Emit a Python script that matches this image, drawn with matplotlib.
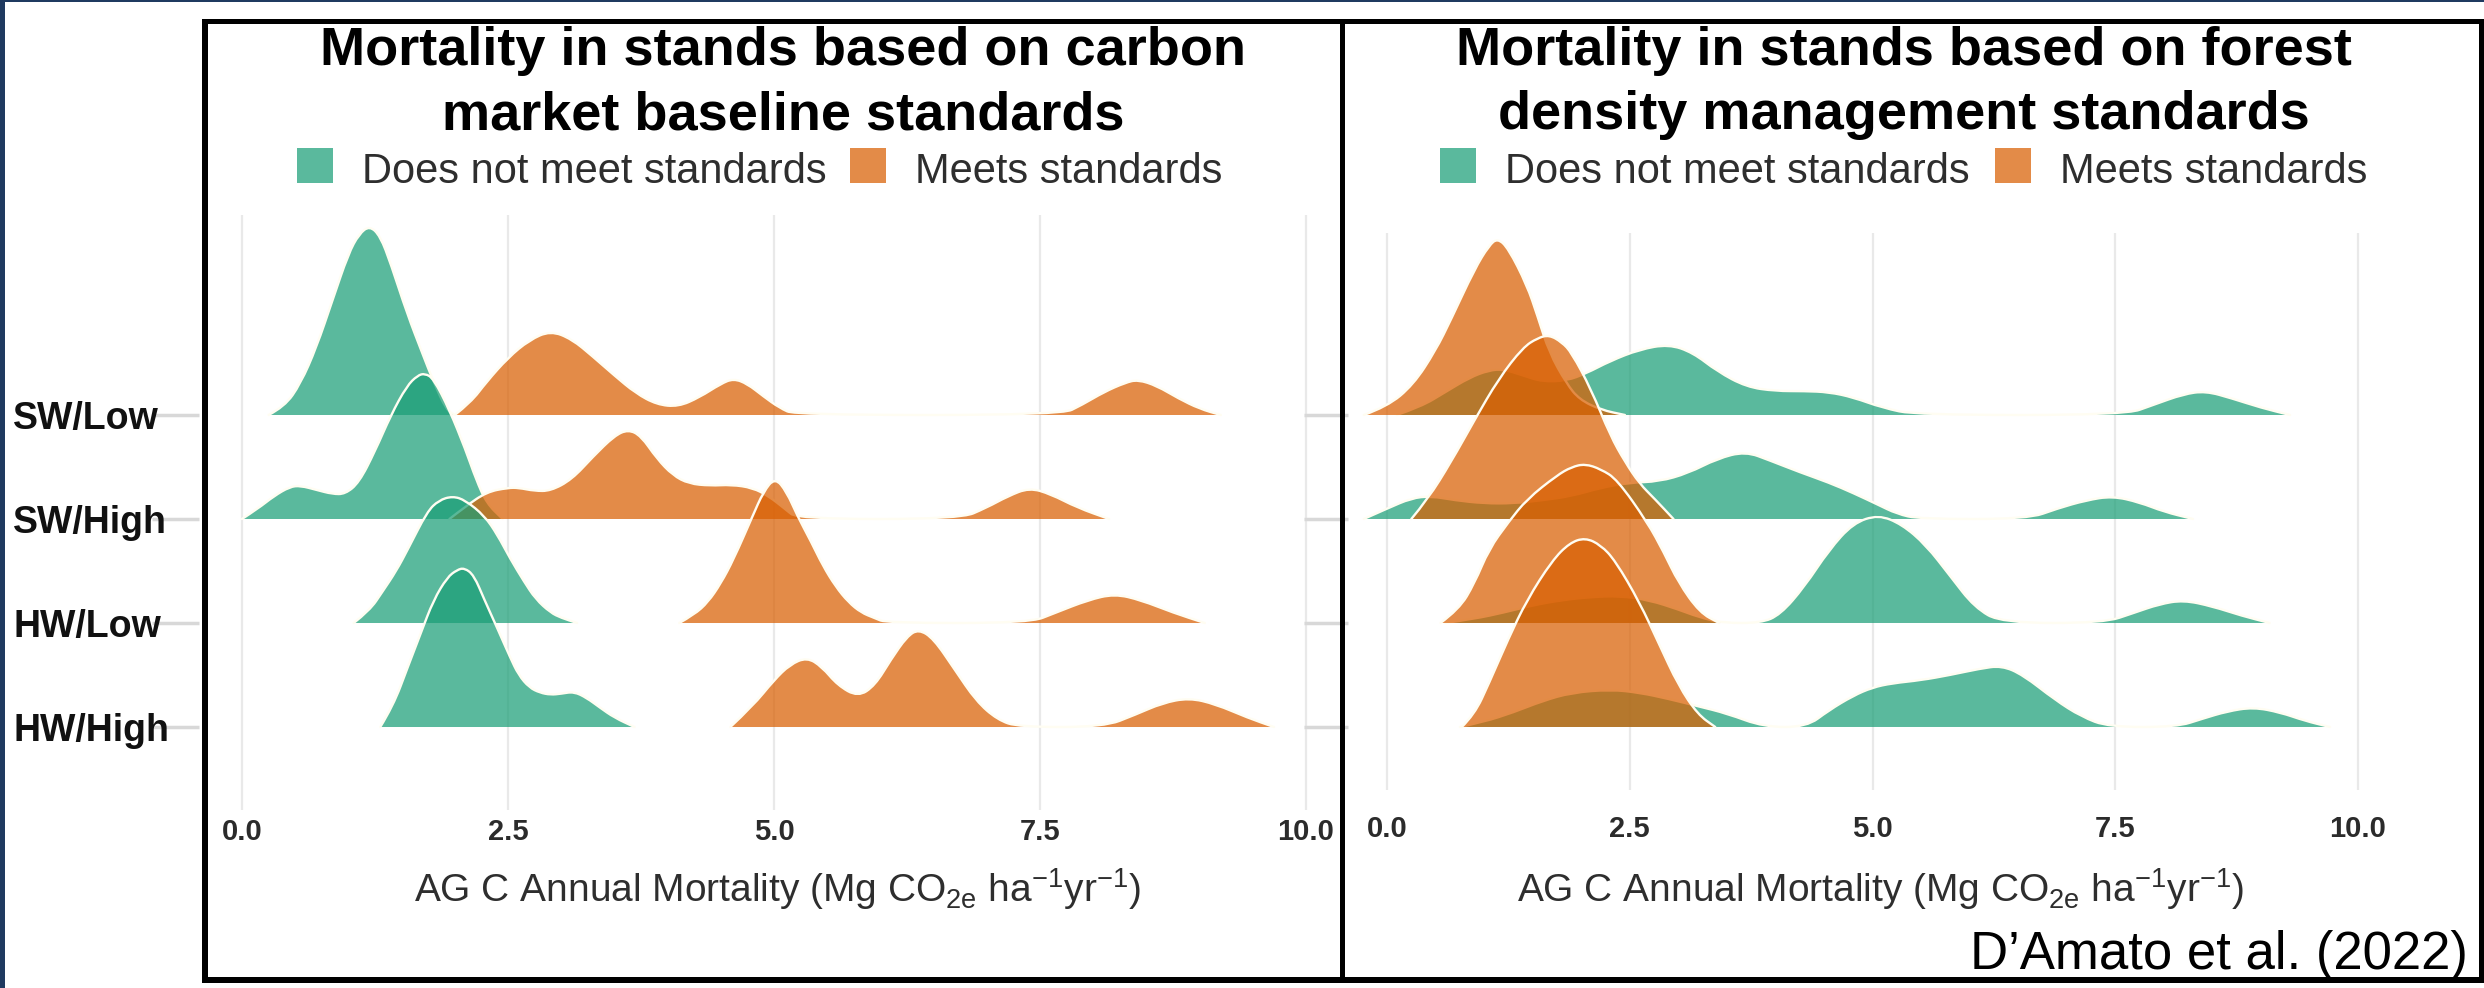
import matplotlib
matplotlib.use('Agg')
import matplotlib.pyplot as plt
from matplotlib import transforms
from matplotlib.patches import Rectangle, PathPatch
from matplotlib.path import Path

plt.rcParams['font.family'] = ['Liberation Sans', 'DejaVu Sans']
plt.rcParams['mathtext.fontset'] = 'custom'
plt.rcParams['mathtext.rm'] = 'Liberation Sans'
plt.rcParams['mathtext.it'] = 'Liberation Sans:italic'
plt.rcParams['mathtext.bf'] = 'Liberation Sans:bold'

rows = ['SW/Low', 'SW/High', 'HW/Low', 'HW/High']
row_pos = [4, 3, 2, 1]
ticks = [0.0, 2.5, 5.0, 7.5, 10.0]
tick_labels = ['0.0', '2.5', '5.0', '7.5', '10.0']
groups = ['Does not meet standards', 'Meets standards']
titles = [['Mortality in stands based on carbon', 'market baseline standards'],
          ['Mortality in stands based on forest', 'density management standards']]
xlabel = r'AG C Annual Mortality (Mg CO$_\mathrm{2e}$ ha$^\mathrm{-1}$yr$^\mathrm{-1}$)'
citation = 'D\u2019Amato et al. (2022)'

# ridge outlines: (x, height in row units)
# carbon market baseline panel
carbon_not_sw_low = [(0.25, 0), (0.40, 0.08), (0.55, 0.30), (0.70, 0.65), (0.85, 1.10), (1.00, 1.55),
                     (1.10, 1.74), (1.20, 1.82), (1.30, 1.72), (1.40, 1.45), (1.55, 0.98), (1.70, 0.58),
                     (1.80, 0.32), (1.92, 0.05), (2.00, 0)]
carbon_meet_sw_low = [(2.0, 0), (2.15, 0.12), (2.3, 0.32), (2.5, 0.55), (2.7, 0.72), (2.9, 0.81), (3.1, 0.73),
                      (3.3, 0.56), (3.5, 0.38), (3.7, 0.21), (3.9, 0.10), (4.1, 0.08), (4.3, 0.17), (4.5, 0.30),
                      (4.62, 0.35), (4.75, 0.30), (4.9, 0.18), (5.05, 0.07), (5.2, 0), (7.7, 0), (7.9, 0.1),
                      (8.1, 0.22), (8.3, 0.31), (8.42, 0.34), (8.6, 0.28), (8.8, 0.16), (9.0, 0.06), (9.2, 0)]
carbon_not_sw_high = [(0.0, 0), (0.15, 0.10), (0.3, 0.22), (0.45, 0.31), (0.55, 0.32), (0.7, 0.28),
                      (0.85, 0.24), (0.97, 0.24), (1.1, 0.35), (1.25, 0.65), (1.4, 1.0), (1.55, 1.28),
                      (1.65, 1.38), (1.72, 1.40), (1.8, 1.35), (1.95, 1.05), (2.1, 0.67), (2.2, 0.38),
                      (2.3, 0.15), (2.45, 0)]
carbon_meet_sw_high = [(1.95, 0), (2.1, 0.12), (2.3, 0.26), (2.5, 0.30), (2.6, 0.30), (2.75, 0.27),
                       (2.9, 0.27), (3.1, 0.38), (3.3, 0.60), (3.5, 0.80), (3.63, 0.86), (3.75, 0.80),
                       (3.9, 0.58), (4.05, 0.42), (4.2, 0.34), (4.4, 0.32), (4.6, 0.33), (4.8, 0.30),
                       (4.95, 0.22), (5.1, 0.10), (5.22, 0), (6.75, 0), (7.0, 0.11), (7.2, 0.22),
                       (7.4, 0.30), (7.6, 0.24), (7.85, 0.11), (8.15, 0)]
carbon_not_hw_low = [(1.05, 0), (1.2, 0.12), (1.32, 0.3), (1.45, 0.5), (1.56, 0.71), (1.74, 1.07),
                     (1.85, 1.18), (1.98, 1.22), (2.1, 1.18), (2.28, 1.03), (2.4, 0.85), (2.52, 0.62),
                     (2.65, 0.4), (2.76, 0.23), (2.9, 0.1), (3.0, 0.05), (3.15, 0)]
carbon_meet_hw_low = [(4.11, 0), (4.25, 0.08), (4.38, 0.2), (4.5, 0.38), (4.62, 0.61), (4.8, 1.03),
                      (4.9, 1.26), (5.01, 1.40), (5.12, 1.26), (5.22, 1.03), (5.35, 0.78), (5.46, 0.55),
                      (5.58, 0.35), (5.7, 0.2), (5.82, 0.1), (5.94, 0.05), (6.06, 0), (7.4, 0),
                      (7.65, 0.1), (7.95, 0.22), (8.2, 0.28), (8.45, 0.22), (8.75, 0.1), (9.05, 0)]
carbon_not_hw_high = [(1.3, 0), (1.42, 0.2), (1.56, 0.58), (1.68, 0.9), (1.8, 1.22), (1.93, 1.44),
                      (2.02, 1.51), (2.09, 1.53), (2.18, 1.46), (2.28, 1.22), (2.4, 0.95), (2.52, 0.67),
                      (2.6, 0.5), (2.7, 0.38), (2.8, 0.33), (2.9, 0.31), (3.0, 0.32), (3.12, 0.34),
                      (3.24, 0.28), (3.36, 0.19), (3.5, 0.09), (3.69, 0)]
carbon_meet_hw_high = [(4.59, 0), (4.8, 0.2), (5.0, 0.45), (5.15, 0.6), (5.31, 0.67), (5.45, 0.58),
                       (5.6, 0.40), (5.79, 0.29), (5.95, 0.40), (6.1, 0.65), (6.25, 0.87), (6.36, 0.94),
                       (6.5, 0.85), (6.7, 0.55), (6.9, 0.25), (7.1, 0.07), (7.3, 0), (8.1, 0),
                       (8.4, 0.12), (8.65, 0.23), (8.9, 0.28), (9.15, 0.22), (9.45, 0.09), (9.7, 0)]

# forest density management panel
forest_not_sw_low = [(0.1, 0), (0.35, 0.08), (0.6, 0.22), (0.85, 0.36), (1.05, 0.43), (1.2, 0.44),
                     (1.4, 0.38), (1.6, 0.32), (1.85, 0.33), (2.05, 0.40), (2.3, 0.52), (2.6, 0.63),
                     (2.9, 0.68), (3.15, 0.6), (3.4, 0.42), (3.7, 0.27), (4.0, 0.23), (4.3, 0.23),
                     (4.55, 0.22), (4.8, 0.17), (5.1, 0.07), (5.45, 0), (7.6, 0), (7.9, 0.1),
                     (8.2, 0.2), (8.43, 0.23), (8.7, 0.16), (9.0, 0.07), (9.3, 0)]
forest_meet_sw_low = [(-0.24, 0), (0.0, 0.08), (0.27, 0.29), (0.5, 0.62), (0.66, 0.92), (0.9, 1.4),
                      (1.05, 1.63), (1.14, 1.70), (1.25, 1.6), (1.44, 1.25), (1.55, 0.95), (1.67, 0.6),
                      (1.85, 0.3), (1.98, 0.15), (2.2, 0.05), (2.45, 0)]
forest_not_sw_high = [(-0.24, 0), (0.0, 0.1), (0.25, 0.2), (0.45, 0.22), (0.7, 0.18), (1.0, 0.15),
                      (1.3, 0.15), (1.6, 0.18), (1.9, 0.22), (2.2, 0.3), (2.5, 0.35), (2.8, 0.36),
                      (3.1, 0.44), (3.4, 0.58), (3.69, 0.65), (3.95, 0.56), (4.25, 0.45), (4.55, 0.35),
                      (4.8, 0.25), (5.05, 0.14), (5.25, 0.05), (5.48, 0), (6.6, 0), (6.9, 0.1),
                      (7.2, 0.18), (7.47, 0.22), (7.75, 0.16), (8.0, 0.07), (8.3, 0)]
forest_meet_sw_high = [(0.25, 0), (0.42, 0.19), (0.66, 0.55), (0.9, 0.95), (1.15, 1.35), (1.4, 1.65),
                       (1.55, 1.74), (1.67, 1.77), (1.8, 1.70), (1.9, 1.6), (2.1, 1.25), (2.3, 0.8),
                       (2.45, 0.55), (2.6, 0.34), (2.76, 0.19), (2.95, 0)]
forest_not_hw_low = [(0.6, 0), (0.9, 0.04), (1.2, 0.1), (1.5, 0.17), (1.8, 0.22), (2.1, 0.25), (2.4, 0.26),
                     (2.7, 0.22), (3.0, 0.13), (3.2, 0.06), (3.45, 0), (3.85, 0), (4.05, 0.08), (4.3, 0.35),
                     (4.55, 0.7), (4.8, 0.96), (5.06, 1.04), (5.3, 0.95), (5.55, 0.75), (5.8, 0.45),
                     (6.05, 0.15), (6.33, 0), (7.38, 0), (7.7, 0.1), (7.95, 0.18), (8.2, 0.22),
                     (8.5, 0.16), (8.8, 0.07), (9.09, 0)]
forest_meet_hw_low = [(0.55, 0), (0.74, 0.13), (0.9, 0.38), (1.05, 0.71), (1.25, 0.97), (1.44, 1.19),
                      (1.75, 1.42), (1.9, 1.50), (2.04, 1.53), (2.2, 1.48), (2.37, 1.38), (2.68, 0.97),
                      (2.85, 0.68), (3.0, 0.39), (3.22, 0.1), (3.42, 0)]
forest_not_hw_high = [(0.75, 0), (1.0, 0.05), (1.3, 0.14), (1.6, 0.25), (1.9, 0.33), (2.3, 0.36),
                      (2.6, 0.33), (2.9, 0.27), (3.2, 0.2), (3.5, 0.13), (3.88, 0), (4.32, 0),
                      (4.55, 0.16), (4.8, 0.3), (5.0, 0.38), (5.2, 0.42), (5.5, 0.45), (5.8, 0.5),
                      (6.1, 0.56), (6.33, 0.59), (6.55, 0.5), (6.88, 0.26), (7.15, 0.1), (7.43, 0),
                      (8.13, 0), (8.4, 0.08), (8.65, 0.15), (8.92, 0.19), (9.2, 0.14), (9.45, 0.06),
                      (9.71, 0)]
forest_meet_hw_high = [(0.77, 0), (0.9, 0.12), (1.05, 0.42), (1.25, 0.85), (1.44, 1.22), (1.7, 1.6),
                       (1.88, 1.77), (2.04, 1.82), (2.2, 1.75), (2.35, 1.6), (2.6, 1.2), (2.8, 0.8),
                       (3.0, 0.4), (3.2, 0.12), (3.38, 0)]

carbon_not = [carbon_not_sw_low, carbon_not_sw_high, carbon_not_hw_low, carbon_not_hw_high]
carbon_meet = [carbon_meet_sw_low, carbon_meet_sw_high, carbon_meet_hw_low, carbon_meet_hw_high]
forest_not = [forest_not_sw_low, forest_not_sw_high, forest_not_hw_low, forest_not_hw_high]
forest_meet = [forest_meet_sw_low, forest_meet_sw_high, forest_meet_hw_low, forest_meet_hw_high]

green = '#1b9e77'
orange = '#d95f02'
alpha = 0.72
W, H = 2484, 988

fig = plt.figure(figsize=(W / 100, H / 100), dpi=100, facecolor='white')


def px_axes(x0, y0, x1, y1):
    # rectangle given in pixels from top-left
    return fig.add_axes([x0 / W, 1 - y1 / H, (x1 - x0) / W, (y1 - y0) / H])


def smooth_top(pts, base):
    # read points used as quadratic bezier control points
    verts = [(pts[0][0], base + pts[0][1])]
    codes = [Path.MOVETO]
    for a, b in zip(pts[1:-1], pts[2:]):
        verts += [(a[0], base + a[1]), ((a[0] + b[0]) / 2, base + (a[1] + b[1]) / 2)]
        codes += [Path.CURVE3, Path.CURVE3]
    verts.append((pts[-1][0], base + pts[-1][1]))
    codes.append(Path.LINETO)
    return verts, codes


def ridge(ax, pts, base, color):
    verts, codes = smooth_top(pts, base)
    fill = Path(verts + [(pts[-1][0], base), (pts[0][0], base), (pts[0][0], base)],
                codes + [Path.LINETO, Path.LINETO, Path.CLOSEPOLY])
    ax.add_patch(PathPatch(fill, facecolor=color, alpha=alpha, lw=0))
    ax.add_patch(PathPatch(Path(verts, codes), facecolor='none', edgecolor='#fffdf2',
                           lw=1.7, joinstyle='round', capstyle='round'))


def panel(ax, not_list, meet_list, ylim, pad, ticklen):
    ax.set_xlim(-0.4, 10.4)
    ax.set_ylim(*ylim)
    ax.patch.set_visible(False)
    for s in ax.spines.values():
        s.set_visible(False)
    ax.set_xticks(ticks, tick_labels)
    ax.tick_params(axis='x', length=0, pad=pad, labelsize=21, labelcolor='#2b2b2b')
    for t in ax.get_xticklabels():
        t.set_fontweight('bold')
    ax.set_yticks(row_pos, [''] * 4)
    ax.tick_params(axis='y', length=ticklen, width=2.5, color='#d8d8d8')
    ax.grid(axis='x', color='#e9e9e9', lw=1.6)
    ax.set_axisbelow(True)
    for i, base in enumerate(row_pos):
        ridge(ax, not_list[i], base, green)
        ridge(ax, meet_list[i], base, orange)


ax1 = px_axes(199.4, 215, 1348.5, 810)
panel(ax1, carbon_not, carbon_meet, (0.202, 5.923), 6, 34)
ax2 = px_axes(1348.2, 233, 2396.9, 790)
panel(ax2, forest_not, forest_meet, (0.394, 5.75), 18, 32)

# row labels on the far left
tr = transforms.blended_transform_factory(fig.transFigure, ax1.transData)
for lab, base in zip(rows, row_pos):
    ax1.text(13 / W, base - 0.04, lab, transform=tr, ha='left', va='center',
             fontsize=27, fontweight='bold', color='#111111')

# overlay in pixel coordinates for frame, titles and legends
ov = fig.add_axes([0, 0, 1, 1], zorder=10)
ov.set_xlim(0, W)
ov.set_ylim(H, 0)
ov.axis('off')

navy = '#1f3a60'
ov.add_patch(Rectangle((0, 0), 5, H, color=navy, lw=0))
ov.add_patch(Rectangle((0, 0), W, 2.5, color=navy, lw=0))
for r in [(202, 19, 2282, 5.5), (202, 976.5, 2282, 6), (202, 19, 5.5, 963), (1339.5, 19, 5.5, 963),
          (2478.5, 19, 5.5, 963)]:
    ov.add_patch(Rectangle((r[0], r[1]), r[2], r[3], color='black', lw=0))

title_x = [783, 1904]
for (l1, l2), cx in zip(titles, title_x):
    ov.text(cx, 65, l1, ha='center', va='baseline', fontsize=39, fontweight='bold', color='black')
    ov.text(cx, 129, l2, ha='center', va='baseline', fontsize=39, fontweight='bold', color='black')

legend_sq = [[297, 850], [1440, 1995]]
for xs in legend_sq:
    for x0, col, lab in zip(xs, [green, orange], groups):
        ov.add_patch(Rectangle((x0, 148), 36, 35, color=col, alpha=alpha, lw=0))
        ov.text(x0 + 65, 183, lab, ha='left', va='baseline', fontsize=30, color='#2e2e2e')

for cx in [777, 1880]:
    ov.text(cx, 902, xlabel, ha='center', va='baseline', fontsize=28, color='#2e2e2e')

ov.text(2468, 969, citation, ha='right', va='baseline', fontsize=38, color='black')

fig.savefig('out.png', dpi=100, facecolor='white')
